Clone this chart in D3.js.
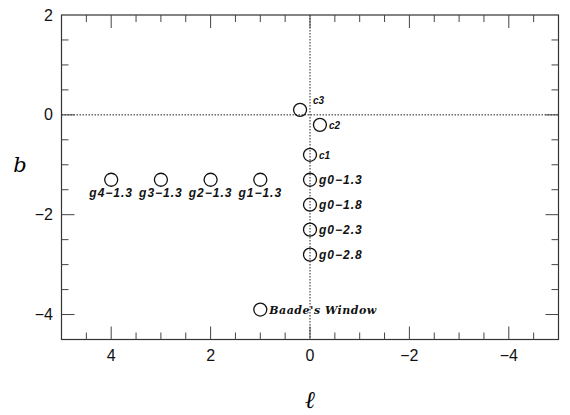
<!DOCTYPE html>
<html>
<head>
<meta charset="utf-8">
<script src="https://cdn.jsdelivr.net/npm/d3@7"></script>
<style>
    body { margin: 0; background: #fff; }
    svg { display: block; }
    .tick-label { font-family: "Liberation Sans", Arial, sans-serif; font-size: 16px; fill: #111; }
    .field-label { font-family: "Liberation Sans", Arial, sans-serif; font-weight: bold; font-style: italic; fill: #111; }
</style>
</head>
<body>
<svg id="chart" width="570" height="415"></svg>
<script>
// fields observed, galactic coords (l, b)
const fieldNames = ["c3", "c2", "c1", "g0−1.3", "g0−1.8", "g0−2.3", "g0−2.8",
    "g1−1.3", "g2−1.3", "g3−1.3", "g4−1.3", "Baade's Window"];
const fieldL = [0.2, -0.2, 0, 0, 0, 0, 0, 1, 2, 3, 4, 1.0];
const fieldB = [0.1, -0.2, -0.8, -1.3, -1.8, -2.3, -2.8, -1.3, -1.3, -1.3, -1.3, -3.9];

const xTicks = [4, 2, 0, -2, -4];
const yTicks = [2, 0, -2, -4];

const svg = d3.select("#chart");
const pLeft = 61.5, pRight = 558.5, pTop = 15, pBottom = 339.5;

const x = d3.scaleLinear().domain([5, -5]).range([pLeft, pRight]);
const y = d3.scaleLinear().domain([-4.5, 2]).range([pBottom, pTop]);

// zero lines
svg.append("line")
    .attr("x1", pLeft).attr("x2", pRight)
    .attr("y1", y(0)).attr("y2", y(0))
    .attr("stroke", "#222").attr("stroke-width", 1)
    .attr("stroke-dasharray", "1.5,1.5");
svg.append("line")
    .attr("x1", x(0)).attr("x2", x(0))
    .attr("y1", pTop).attr("y2", pBottom)
    .attr("stroke", "#222").attr("stroke-width", 1)
    .attr("stroke-dasharray", "1.5,1.5");

// frame
svg.append("rect")
    .attr("x", pLeft).attr("y", pTop)
    .attr("width", pRight - pLeft).attr("height", pBottom - pTop)
    .attr("fill", "none").attr("stroke", "#333").attr("stroke-width", 1.2);

// ticks, inward on all four sides
const tickColor = "#444";
let xMinor = d3.range(-4.5, 5, 0.5);
xMinor.forEach(v => {
    let len = Math.abs(v % 2) < 1e-9 ? 13 : 7;
    svg.append("line").attr("x1", x(v)).attr("x2", x(v))
        .attr("y1", pBottom).attr("y2", pBottom - len)
        .attr("stroke", tickColor).attr("stroke-width", 1);
    svg.append("line").attr("x1", x(v)).attr("x2", x(v))
        .attr("y1", pTop).attr("y2", pTop + len)
        .attr("stroke", tickColor).attr("stroke-width", 1);
});
let yMinor = d3.range(-4, 2, 0.5);
yMinor.forEach(v => {
    let len = Math.abs(v % 2) < 1e-9 ? 13 : 7;
    svg.append("line").attr("x1", pLeft).attr("x2", pLeft + len)
        .attr("y1", y(v)).attr("y2", y(v))
        .attr("stroke", tickColor).attr("stroke-width", 1);
    svg.append("line").attr("x1", pRight).attr("x2", pRight - len)
        .attr("y1", y(v)).attr("y2", y(v))
        .attr("stroke", tickColor).attr("stroke-width", 1);
});

svg.selectAll(".xl").data(xTicks).enter().append("text")
    .attr("class", "tick-label")
    .attr("x", d => x(d)).attr("y", 361)
    .attr("text-anchor", "middle")
    .text(d => d < 0 ? "−" + Math.abs(d) : d);
svg.selectAll(".yl").data(yTicks).enter().append("text")
    .attr("class", "tick-label")
    .attr("x", 53).attr("y", d => y(d) + 5.5)
    .attr("text-anchor", "end")
    .text(d => d < 0 ? "−" + Math.abs(d) : d);

// axis titles
svg.append("text")
    .attr("x", 20).attr("y", 172)
    .attr("text-anchor", "middle")
    .style("font-family", "'DejaVu Serif', serif").style("font-style", "italic")
    .style("font-size", "21px")
    .text("b");
svg.append("text")
    .attr("x", x(0)).attr("y", 408)
    .attr("text-anchor", "middle")
    .style("font-family", "'DejaVu Serif', serif").style("font-style", "italic")
    .style("font-size", "24px")
    .text("ℓ");

// fields
const fields = fieldNames.map((n, i) => ({ name: n, l: fieldL[i], b: fieldB[i] }));

svg.selectAll("circle.field").data(fields).enter().append("circle")
    .attr("class", "field")
    .attr("cx", d => x(d.l)).attr("cy", d => y(d.b))
    .attr("r", 6.5)
    .attr("fill", "none").attr("stroke", "#111").attr("stroke-width", 1.3);

svg.selectAll("text.field-label").data(fields).enter().append("text")
    .attr("class", "field-label")
    .each(function(d) {
        let t = d3.select(this);
        if (d.name === "Baade's Window") {
            t.attr("x", x(d.l) + 9).attr("y", y(d.b) + 4)
                .style("font-family", "'DejaVu Serif', serif")
                .style("font-size", "11px").style("letter-spacing", "0.5px");
        } else if (d.name.startsWith("c")) {
            let dy = d.name === "c3" ? -6 : 4;
            let dx = d.name === "c3" ? 13 : 9;
            t.attr("x", x(d.l) + dx).attr("y", y(d.b) + dy)
                .style("font-size", "10px");
        } else if (d.l === 0) {
            t.attr("x", x(d.l) + 9).attr("y", y(d.b) + 4)
                .style("font-size", "12px").style("letter-spacing", "1px");
        } else {
            t.attr("x", x(d.l)).attr("y", y(d.b) + 17)
                .attr("text-anchor", "middle")
                .style("font-size", "12px").style("letter-spacing", "1px");
        }
    })
    .text(d => d.name);
</script>
</body>
</html>
